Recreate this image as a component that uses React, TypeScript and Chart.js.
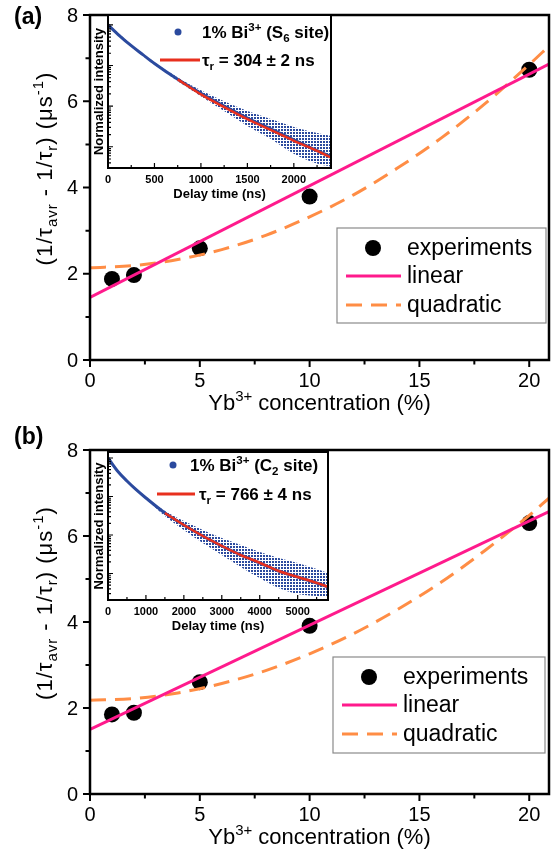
import React, { useEffect, useRef } from 'react';
import { Chart, registerables } from 'chart.js';

Chart.register(...registerables);

const FONT = '"Liberation Sans", Arial, sans-serif';
const PINK = '#FF1A8C';
const ORANGE = '#FF8D45';
const BLUE = '#2B4A9E';
const RED = '#E8301E';

// ---------- main panels ----------
const xTickVals = [0, 5, 10, 15, 20];
const xMinorVals = [2.5, 7.5, 12.5, 17.5];
const yTickVals = [0, 2, 4, 6, 8];
const yMinorVals = [1, 3, 5, 7];

const concA = [1, 2, 5, 10, 20];
const rateA = [1.88, 1.97, 2.59, 3.79, 6.73];
const linXA = [0, 20.9];
const linYA = [1.45, 6.86];
const quadX = [0, 2, 4, 6, 8, 10, 12, 14, 16, 18, 20, 20.9];
const quadYA = [2.14, 2.19, 2.33, 2.56, 2.89, 3.32, 3.83, 4.45, 5.15, 5.95, 6.85, 7.28];

const concB = [1, 2, 5, 10, 20];
const rateB = [1.85, 1.89, 2.6, 3.91, 6.3];
const linXB = [0, 20.9];
const linYB = [1.5, 6.57];
const quadYB = [2.18, 2.22, 2.35, 2.57, 2.87, 3.26, 3.73, 4.29, 4.93, 5.67, 6.48, 6.88];

const legendLabels = ['experiments', 'linear', 'quadratic'];

// ---------- insets ----------
const decayTA = [0, 125, 250, 375, 500, 750, 1000, 1250, 1500, 1750, 2000, 2250, 2400];
const decayMidA = [1, 0.539, 0.307, 0.185, 0.112, 0.0456, 0.0207, 0.01, 0.0051, 0.00275, 0.00148, 0.000798, 0.00057];
const bandTA = [0, 250, 500, 750, 1000, 1250, 1500, 1750, 2000, 2250, 2400];
const bandHiA = [1.06, 0.325, 0.118, 0.0509, 0.0245, 0.0132, 0.00755, 0.00482, 0.00308, 0.00219, 0.00185];
const bandLoA = [0.946, 0.29, 0.106, 0.0407, 0.0175, 0.00755, 0.00325, 0.00157, 0.000675, 0.000385, 0.000324];
const fitTA = [750, 1000, 1250, 1500, 1750, 2000, 2250, 2400];
const fitYA = [0.0456, 0.0195, 0.0095, 0.0048, 0.0026, 0.0014, 0.00079, 0.00054];
const insetXLabelsA = [0, 500, 1000, 1500, 2000];
const insetXMinorA = [250, 750, 1250, 1750, 2250];

const decayTB = [0, 250, 500, 750, 1000, 1500, 2000, 2500, 3000, 3500, 4000, 4500, 5000, 5500, 5800];
const decayMidB = [1, 0.459, 0.253, 0.148, 0.0914, 0.0373, 0.0182, 0.00942, 0.00518, 0.00303, 0.00188, 0.00116, 0.00081, 0.000566, 0.000446];
const bandHiB = [1.06, 0.488, 0.268, 0.157, 0.097, 0.042, 0.0231, 0.0135, 0.00836, 0.0055, 0.00361, 0.00253, 0.00188, 0.00131, 0.00103];
const bandLoB = [0.942, 0.433, 0.238, 0.139, 0.0861, 0.0312, 0.0135, 0.0062, 0.00303, 0.00148, 0.000764, 0.00042, 0.000294, 0.00026, 0.000245];
const fitTB = [1500, 2000, 2500, 3000, 3500, 4000, 4500, 5000, 5500, 5800];
const fitYB = [0.0373, 0.0182, 0.0094, 0.0052, 0.003, 0.0019, 0.00116, 0.00081, 0.00057, 0.00045];
const insetXLabelsB = [0, 1000, 2000, 3000, 4000, 5000];
const insetXMinorB = [500, 1500, 2500, 3500, 4500, 5500];

const logDecades = [1, 0.1, 0.01, 0.001, 0.0001];
const logMinorFactors = [2, 3, 4, 5, 6, 7, 8, 9];

type Seg = { t: string; s?: 'sub' | 'sup' };

function drawRich(
  ctx: CanvasRenderingContext2D,
  segs: Seg[],
  x: number,
  y: number,
  size: number,
  weight: string,
  align: 'center' | 'left',
  spacing = 0
) {
  const small = size * 0.68;
  const anyCtx = ctx as any;
  const hasLS = 'letterSpacing' in anyCtx;
  if (hasLS) anyCtx.letterSpacing = spacing + 'px';
  const widths = segs.map((sg) => {
    ctx.font = `${weight} ${sg.s ? small : size}px ${FONT}`;
    const w = ctx.measureText(sg.t).width;
    return w;
  });
  const total = widths.reduce((a, b) => a + b, 0);
  let cx = align === 'center' ? x - total / 2 : x;
  ctx.textAlign = 'left';
  ctx.textBaseline = 'alphabetic';
  segs.forEach((sg, i) => {
    ctx.font = `${weight} ${sg.s ? small : size}px ${FONT}`;
    const dy = sg.s === 'sub' ? size * 0.22 : sg.s === 'sup' ? -size * 0.4 : 0;
    ctx.fillText(sg.t, cx, y + dy);
    cx += widths[i];
  });
  if (hasLS) anyCtx.letterSpacing = '0px';
}

function dotPattern(ctx: CanvasRenderingContext2D): CanvasPattern | string {
  const tile = document.createElement('canvas');
  tile.width = 3;
  tile.height = 3;
  const t = tile.getContext('2d');
  if (!t) return 'rgba(43,74,158,0.6)';
  t.fillStyle = BLUE;
  t.fillRect(0, 0, 2, 2);
  return ctx.createPattern(tile, 'repeat') || 'rgba(43,74,158,0.6)';
}

type PanelCfg = {
  tag: string;
  conc: number[];
  rate: number[];
  linX: number[];
  linY: number[];
  quadY: number[];
  padding: { left: number; right: number; top: number; bottom: number };
  legend: { dx: number; dy: number; w: number; h: number };
  tagY: number;
};

function mainDecor(p: PanelCfg) {
  return {
    id: 'mainDecor',
    afterDraw(chart: any) {
      const ctx: CanvasRenderingContext2D = chart.ctx;
      const ca = chart.chartArea;
      const xs = chart.scales.x;
      const ys = chart.scales.y;
      ctx.save();
      ctx.strokeStyle = '#000';
      ctx.fillStyle = '#000';
      ctx.lineWidth = 2.5;
      ctx.strokeRect(ca.left, ca.top, ca.right - ca.left, ca.bottom - ca.top);
      ctx.lineWidth = 2;
      ctx.beginPath();
      xTickVals.forEach((v) => {
        const px = xs.getPixelForValue(v);
        ctx.moveTo(px, ca.bottom);
        ctx.lineTo(px, ca.bottom + 7);
      });
      xMinorVals.forEach((v) => {
        const px = xs.getPixelForValue(v);
        ctx.moveTo(px, ca.bottom);
        ctx.lineTo(px, ca.bottom + 4.5);
      });
      yTickVals.forEach((v) => {
        const py = ys.getPixelForValue(v);
        ctx.moveTo(ca.left, py);
        ctx.lineTo(ca.left - 7, py);
      });
      yMinorVals.forEach((v) => {
        const py = ys.getPixelForValue(v);
        ctx.moveTo(ca.left, py);
        ctx.lineTo(ca.left - 4.5, py);
      });
      ctx.stroke();

      ctx.font = `20px ${FONT}`;
      ctx.textAlign = 'center';
      ctx.textBaseline = 'alphabetic';
      xTickVals.forEach((v) => {
        ctx.fillText(String(v), xs.getPixelForValue(v), ca.bottom + 27);
      });
      ctx.textAlign = 'right';
      ctx.textBaseline = 'middle';
      yTickVals.forEach((v) => {
        ctx.fillText(String(v), ca.left - 12, ys.getPixelForValue(v) + 1);
      });

      // x title
      drawRich(
        ctx,
        [{ t: 'Yb' }, { t: '3+', s: 'sup' }, { t: ' concentration (%)' }],
        (ca.left + ca.right) / 2,
        ca.bottom + 50,
        22,
        'normal',
        'center'
      );
      // y title
      ctx.save();
      ctx.translate(52, (ca.top + ca.bottom) / 2 - 19);
      ctx.rotate(-Math.PI / 2);
      drawRich(
        ctx,
        [
          { t: '(1/τ' },
          { t: 'avr', s: 'sub' },
          { t: ' - 1/τ' },
          { t: 'r', s: 'sub' },
          { t: ') (μs' },
          { t: '-1', s: 'sup' },
          { t: ')' },
        ],
        0,
        0,
        22,
        'normal',
        'center',
        1
      );
      ctx.restore();

      // panel tag
      ctx.font = `bold 23px ${FONT}`;
      ctx.textAlign = 'left';
      ctx.textBaseline = 'middle';
      ctx.fillText(p.tag, 14, p.tagY);

      // legend
      const lx = ca.left + p.legend.dx;
      const ly = ca.top + p.legend.dy;
      ctx.fillStyle = '#fff';
      ctx.fillRect(lx, ly, p.legend.w, p.legend.h);
      ctx.strokeStyle = '#8a8a8a';
      ctx.lineWidth = 1.2;
      ctx.strokeRect(lx, ly, p.legend.w, p.legend.h);
      const rows = [20, 48, 77];
      const ds = chart.data.datasets;
      ctx.fillStyle = '#000';
      ctx.beginPath();
      ctx.arc(lx + 36, ly + rows[0], 8, 0, Math.PI * 2);
      ctx.fill();
      ctx.strokeStyle = ds[0].borderColor;
      ctx.lineWidth = 3;
      ctx.beginPath();
      ctx.moveTo(lx + 9, ly + rows[1]);
      ctx.lineTo(lx + 64, ly + rows[1]);
      ctx.stroke();
      ctx.strokeStyle = ds[1].borderColor;
      ctx.setLineDash([16, 9]);
      ctx.beginPath();
      ctx.moveTo(lx + 9, ly + rows[2]);
      ctx.lineTo(lx + 64, ly + rows[2]);
      ctx.stroke();
      ctx.setLineDash([]);
      ctx.fillStyle = '#000';
      ctx.font = `23px ${FONT}`;
      ctx.textAlign = 'left';
      ctx.textBaseline = 'middle';
      legendLabels.forEach((lab, i) => {
        ctx.fillText(lab, lx + 70, ly + rows[i] + 1);
      });
      ctx.restore();
    },
  };
}

function makeMain(canvas: HTMLCanvasElement, p: PanelCfg) {
  return new Chart(canvas, {
    type: 'line',
    data: {
      datasets: [
        {
          label: 'linear',
          data: p.linX.map((x, i) => ({ x, y: p.linY[i] })),
          borderColor: PINK,
          borderWidth: 3,
          pointRadius: 0,
          fill: false,
        },
        {
          label: 'quadratic',
          data: quadX.map((x, i) => ({ x, y: p.quadY[i] })),
          borderColor: ORANGE,
          borderWidth: 3,
          borderDash: [16, 9],
          pointRadius: 0,
          cubicInterpolationMode: 'monotone',
          fill: false,
        },
        {
          label: 'experiments',
          data: p.conc.map((x, i) => ({ x, y: p.rate[i] })),
          showLine: false,
          pointRadius: 8,
          pointBackgroundColor: '#000',
          pointBorderColor: '#000',
          pointBorderWidth: 0,
        },
      ] as any,
    },
    options: {
      animation: false,
      responsive: false,
      devicePixelRatio: 1,
      events: [],
      layout: { padding: p.padding },
      plugins: { legend: { display: false }, tooltip: { enabled: false } },
      scales: {
        x: { type: 'linear', min: 0, max: 20.9, display: false },
        y: { type: 'linear', min: 0, max: 8, display: false },
      },
    },
    plugins: [mainDecor(p)],
  });
}

type InsetCfg = {
  decayT: number[];
  decayMid: number[];
  bandT: number[];
  bandHi: number[];
  bandLo: number[];
  fitT: number[];
  fitY: number[];
  xMax: number;
  yMin: number;
  yMax: number;
  xLabels: number[];
  xMinor: number[];
  padding: { left: number; right: number; top: number; bottom: number };
  site: string;
  tau: string;
  leg: { dotX: number; dotY: number; textX1: number; lineX0: number; lineX1: number; lineY: number; textX2: number };
};

function insetDecor(c: InsetCfg) {
  return {
    id: 'insetDecor',
    beforeDatasetsDraw(chart: any) {
      const ctx: CanvasRenderingContext2D = chart.ctx;
      const ca = chart.chartArea;
      ctx.save();
      ctx.fillStyle = '#fff';
      ctx.fillRect(ca.left, ca.top, ca.right - ca.left, ca.bottom - ca.top);
      ctx.restore();
    },
    afterDraw(chart: any) {
      const ctx: CanvasRenderingContext2D = chart.ctx;
      const ca = chart.chartArea;
      const xs = chart.scales.x;
      const ys = chart.scales.y;
      ctx.save();
      ctx.strokeStyle = '#000';
      ctx.fillStyle = '#000';
      ctx.lineWidth = 2;
      ctx.strokeRect(ca.left, ca.top, ca.right - ca.left, ca.bottom - ca.top);
      ctx.lineWidth = 1.2;
      ctx.beginPath();
      c.xLabels.forEach((v) => {
        const px = xs.getPixelForValue(v);
        ctx.moveTo(px, ca.bottom);
        ctx.lineTo(px, ca.bottom - 5);
      });
      c.xMinor.forEach((v) => {
        const px = xs.getPixelForValue(v);
        ctx.moveTo(px, ca.bottom);
        ctx.lineTo(px, ca.bottom - 3);
      });
      logDecades.forEach((d) => {
        if (d >= c.yMin && d <= c.yMax) {
          const py = ys.getPixelForValue(d);
          ctx.moveTo(ca.left, py);
          ctx.lineTo(ca.left + 5, py);
        }
        logMinorFactors.forEach((f) => {
          const v = d * f;
          if (v >= c.yMin && v <= c.yMax) {
            const py = ys.getPixelForValue(v);
            ctx.moveTo(ca.left, py);
            ctx.lineTo(ca.left + 3, py);
          }
        });
      });
      ctx.stroke();

      ctx.font = `bold 11px ${FONT}`;
      ctx.textAlign = 'center';
      ctx.textBaseline = 'alphabetic';
      c.xLabels.forEach((v) => {
        ctx.fillText(String(v), xs.getPixelForValue(v), ca.bottom + 15);
      });
      ctx.font = `bold 13px ${FONT}`;
      ctx.fillText('Delay time (ns)', (ca.left + ca.right) / 2, ca.bottom + 30);
      ctx.save();
      ctx.translate(ca.left - 5, (ca.top + ca.bottom) / 2);
      ctx.rotate(-Math.PI / 2);
      ctx.textAlign = 'center';
      ctx.fillText('Normalized intensity', 0, 0);
      ctx.restore();

      // legend
      const L = c.leg;
      ctx.fillStyle = BLUE;
      ctx.beginPath();
      ctx.arc(L.dotX, L.dotY, 3.5, 0, Math.PI * 2);
      ctx.fill();
      ctx.strokeStyle = RED;
      ctx.lineWidth = 3;
      ctx.beginPath();
      ctx.moveTo(L.lineX0, L.lineY);
      ctx.lineTo(L.lineX1, L.lineY);
      ctx.stroke();
      ctx.fillStyle = '#000';
      drawRich(
        ctx,
        [{ t: '1% Bi' }, { t: '3+', s: 'sup' }, { t: ' (' + c.site[0] }, { t: c.site[1], s: 'sub' }, { t: ' site)' }],
        L.textX1,
        L.dotY + 6,
        17,
        'bold',
        'left'
      );
      drawRich(ctx, [{ t: 'τ' }, { t: 'r', s: 'sub' }, { t: ' = ' + c.tau }], L.textX2, L.lineY + 6, 17, 'bold', 'left');
      ctx.restore();
    },
  };
}

function makeInset(canvas: HTMLCanvasElement, c: InsetCfg) {
  const ctx = canvas.getContext('2d') as CanvasRenderingContext2D;
  const pattern = dotPattern(ctx);
  return new Chart(canvas, {
    type: 'line',
    data: {
      datasets: [
        {
          label: 'fit',
          data: c.fitT.map((x, i) => ({ x, y: c.fitY[i] })),
          borderColor: RED,
          borderWidth: 2.5,
          pointRadius: 0,
          cubicInterpolationMode: 'monotone',
          fill: false,
        },
        {
          label: 'data',
          data: c.decayT.map((x, i) => ({ x, y: c.decayMid[i] })),
          borderColor: BLUE,
          borderWidth: 3,
          pointRadius: 0,
          cubicInterpolationMode: 'monotone',
          fill: false,
        },
        {
          label: 'hi',
          data: c.bandT.map((x, i) => ({ x, y: c.bandHi[i] })),
          borderWidth: 0,
          borderColor: 'rgba(0,0,0,0)',
          pointRadius: 0,
          cubicInterpolationMode: 'monotone',
          fill: '+1',
          backgroundColor: pattern,
        },
        {
          label: 'lo',
          data: c.bandT.map((x, i) => ({ x, y: c.bandLo[i] })),
          borderWidth: 0,
          borderColor: 'rgba(0,0,0,0)',
          pointRadius: 0,
          cubicInterpolationMode: 'monotone',
          fill: false,
        },
      ] as any,
    },
    options: {
      animation: false,
      responsive: false,
      devicePixelRatio: 1,
      events: [],
      layout: { padding: c.padding },
      plugins: { legend: { display: false }, tooltip: { enabled: false } },
      scales: {
        x: { type: 'linear', min: 0, max: c.xMax, display: false },
        y: { type: 'logarithmic', min: c.yMin, max: c.yMax, display: false },
      },
    },
    plugins: [insetDecor(c)],
  });
}

const panelA: PanelCfg = {
  tag: '(a)',
  conc: concA,
  rate: rateA,
  linX: linXA,
  linY: linYA,
  quadY: quadYA,
  padding: { left: 90, right: 3, top: 15, bottom: 60 },
  legend: { dx: 247, dy: 213, w: 209, h: 95 },
  tagY: 18,
};
const panelB: PanelCfg = {
  tag: '(b)',
  conc: concB,
  rate: rateB,
  linX: linXB,
  linY: linYB,
  quadY: quadYB,
  padding: { left: 90, right: 3, top: 30, bottom: 58 },
  legend: { dx: 243, dy: 207, w: 212, h: 96 },
  tagY: 18,
};

const insetA: InsetCfg = {
  decayT: decayTA,
  decayMid: decayMidA,
  bandT: bandTA,
  bandHi: bandHiA,
  bandLo: bandLoA,
  fitT: fitTA,
  fitY: fitYA,
  xMax: 2400,
  yMin: 3.25e-4,
  yMax: 1.75,
  xLabels: insetXLabelsA,
  xMinor: insetXMinorA,
  padding: { left: 28, right: 11, top: 15, bottom: 37 },
  site: 'S6',
  tau: '304 ± 2 ns',
  leg: { dotX: 98, dotY: 32, textX1: 122, lineX0: 80, lineX1: 120, lineY: 60, textX2: 122 },
};
const insetB: InsetCfg = {
  decayT: decayTB,
  decayMid: decayMidB,
  bandT: decayTB,
  bandHi: bandHiB,
  bandLo: bandLoB,
  fitT: fitTB,
  fitY: fitYB,
  xMax: 5800,
  yMin: 2.05e-4,
  yMax: 1.43,
  xLabels: insetXLabelsB,
  xMinor: insetXMinorB,
  padding: { left: 28, right: 14, top: 17, bottom: 40 },
  site: 'C2',
  tau: '766 ± 4 ns',
  leg: { dotX: 93, dotY: 30, textX1: 110, lineX0: 77, lineX1: 115, lineY: 59, textX2: 119 },
};

function ChartCanvas(props: { make: (c: HTMLCanvasElement) => Chart; left: number; top: number; width: number; height: number }) {
  const ref = useRef<HTMLCanvasElement>(null);
  useEffect(() => {
    if (!ref.current) return;
    const chart = props.make(ref.current);
    return () => chart.destroy();
  }, []);
  return (
    <canvas
      ref={ref}
      width={props.width}
      height={props.height}
      style={{ position: 'absolute', left: props.left, top: props.top, width: props.width, height: props.height }}
    />
  );
}

export default function App() {
  return (
    <div style={{ position: 'absolute', left: 0, top: 0, width: 557, height: 852, background: '#fff', overflow: 'hidden' }}>
      <ChartCanvas make={(c) => makeMain(c, panelA)} left={0} top={0} width={557} height={420} />
      <ChartCanvas make={(c) => makeMain(c, panelB)} left={0} top={420} width={557} height={432} />
      <ChartCanvas make={(c) => makeInset(c, insetA)} left={80} top={0} width={262} height={205} />
      <ChartCanvas make={(c) => makeInset(c, insetB)} left={80} top={435} width={262} height={205} />
    </div>
  );
}
